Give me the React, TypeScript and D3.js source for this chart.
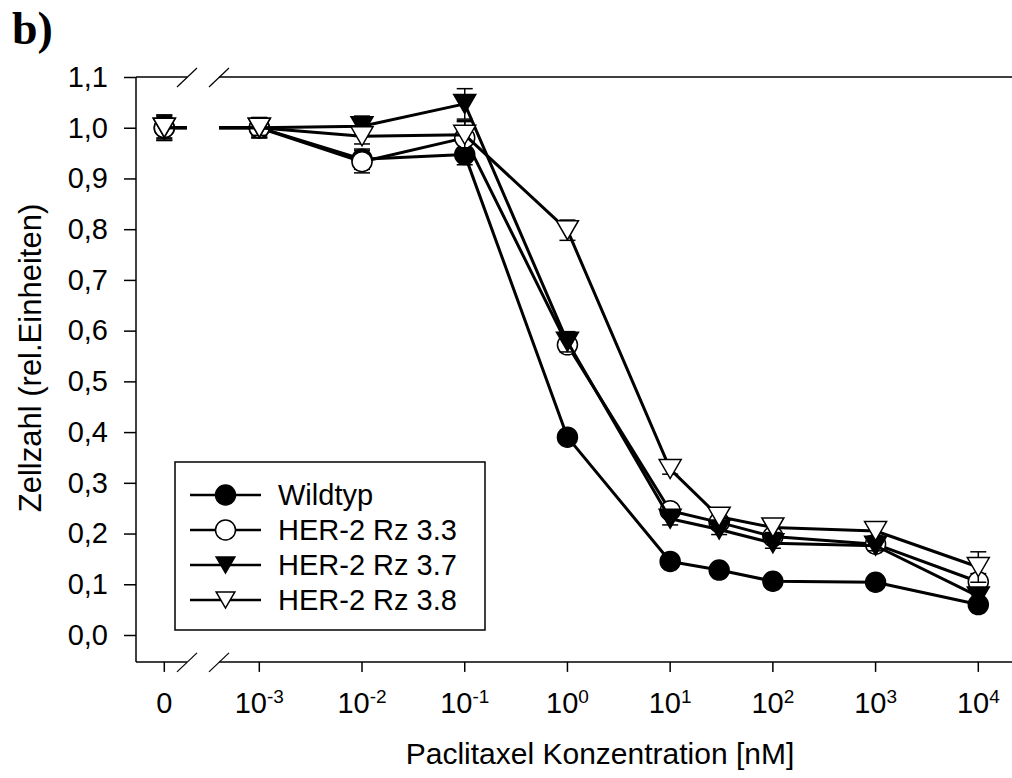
import React, { useEffect, useRef } from "react";
import * as d3 from "d3";

// Paclitaxel concentration in nM (0 = untreated control, drawn left of the axis break)
const concentrations = [0, 1e-3, 1e-2, 1e-1, 1, 10, 30, 100, 1000, 10000];

const wildtyp = [1.0, 1.0, 0.938, 0.947, 0.39, 0.145, 0.128, 0.106, 0.104, 0.06];
const rz33 = [1.0, 1.0, 0.933, 0.98, 0.572, 0.245, 0.222, 0.194, 0.179, 0.105];
const rz37 = [1.0, 1.0, 1.003, 1.047, 0.578, 0.229, 0.208, 0.181, 0.176, 0.076];
const rz38 = [1.0, 1.0, 0.983, 0.986, 0.798, 0.327, 0.233, 0.212, 0.205, 0.134];

const wildtypErr = [0.02, 0.018, 0.02, 0.02, 0.008, 0.008, 0.006, 0.006, 0.006, 0.008];
const rz33Err = [0.025, 0.02, 0.022, 0.032, 0.01, 0.01, 0.01, 0.01, 0.01, 0.016];
const rz37Err = [0.025, 0.02, 0.02, 0.03, 0.02, 0.012, 0.01, 0.01, 0.01, 0.01];
const rz38Err = [0.022, 0.015, 0.015, 0.028, 0.02, 0.01, 0.01, 0.01, 0.01, 0.03];

const seriesNames = ["Wildtyp", "HER-2 Rz 3.3", "HER-2 Rz 3.7", "HER-2 Rz 3.8"];
const yTicks = [0, 0.1, 0.2, 0.3, 0.4, 0.5, 0.6, 0.7, 0.8, 0.9, 1.0, 1.1];
const xTickExponents = [-3, -2, -1, 0, 1, 2, 3, 4];

const width = 1012;
const height = 778;
const font = "'Liberation Sans', Arial, sans-serif";

const App = () => {
  const chartRef = useRef(null);

  useEffect(() => {
    drawChart();
  }, []);

  const drawChart = () => {
    const svg = d3.select(chartRef.current);
    svg.selectAll("*").remove();

    const x = d3.scaleLog().domain([1e-3, 1e4]).range([259.3, 978.3]);
    const zeroX = 164.3;
    const px = (c) => (c === 0 ? zeroX : x(c));
    const y = d3.scaleLinear().domain([0, 1.1]).range([635, 77]);

    const axisLeftX = 136;
    const axisBottomY = y(-0.053);
    const breakA = 187;
    const breakB = 219;

    const series = [
      { name: seriesNames[0], values: wildtyp, err: wildtypErr, shape: "circle", fill: "#000" },
      { name: seriesNames[1], values: rz33, err: rz33Err, shape: "circle", fill: "#fff" },
      { name: seriesNames[2], values: rz37, err: rz37Err, shape: "triangle", fill: "#000" },
      { name: seriesNames[3], values: rz38, err: rz38Err, shape: "triangle", fill: "#fff" },
    ];

    // "b)" panel label
    svg
      .append("text")
      .attr("x", 12)
      .attr("y", 44)
      .attr("font-family", "'Liberation Serif', 'Times New Roman', serif")
      .attr("font-weight", "bold")
      .attr("font-size", 46)
      .text("b)");

    // y axis
    const yAxis = (g) =>
      g
        .attr("transform", `translate(${axisLeftX},0)`)
        .call(
          d3
            .axisLeft(y)
            .tickValues(yTicks)
            .tickSize(12)
            .tickPadding(16)
            .tickFormat((d) => d3.format(".1f")(d).replace(".", ","))
        )
        .call((g) => g.select(".domain").remove())
        .call((g) => g.selectAll(".tick line").attr("stroke", "#000").attr("stroke-width", 1.5))
        .call((g) =>
          g
            .selectAll(".tick text")
            .attr("fill", "#000")
            .attr("font-family", font)
            .attr("font-size", 29)
        );
    svg.append("g").call(yAxis);

    const axes = svg.append("g").attr("stroke", "#000").attr("stroke-width", 1.5).attr("fill", "none");
    axes.append("line").attr("x1", axisLeftX).attr("x2", axisLeftX).attr("y1", y(1.1)).attr("y2", axisBottomY);
    [y(1.1), axisBottomY].forEach((ly) => {
      axes.append("line").attr("x1", axisLeftX).attr("x2", breakA).attr("y1", ly).attr("y2", ly);
      axes.append("line").attr("x1", breakB).attr("x2", width).attr("y1", ly).attr("y2", ly);
      [breakA, breakB].forEach((bx) => {
        axes
          .append("line")
          .attr("x1", bx - 10)
          .attr("y1", ly + 10)
          .attr("x2", bx + 10)
          .attr("y2", ly - 9)
          .attr("stroke-width", 1.2);
      });
    });

    // x ticks + labels
    const xTicks = [{ pos: zeroX, exp: null }].concat(
      xTickExponents.map((e) => ({ pos: x(Math.pow(10, e)), exp: e }))
    );
    xTicks.forEach((t) => {
      axes.append("line").attr("x1", t.pos).attr("x2", t.pos).attr("y1", axisBottomY).attr("y2", axisBottomY + 10);
      const label = svg
        .append("text")
        .attr("x", t.pos)
        .attr("y", 713)
        .attr("text-anchor", "middle")
        .attr("font-family", font)
        .attr("font-size", 29);
      if (t.exp === null) {
        label.text("0");
      } else {
        label.append("tspan").text("10");
        label
          .append("tspan")
          .attr("font-size", 19)
          .attr("dy", -10)
          .text(String(t.exp));
      }
    });

    // axis titles
    svg
      .append("text")
      .attr("x", 600)
      .attr("y", 764)
      .attr("text-anchor", "middle")
      .attr("font-family", font)
      .attr("font-size", 30)
      .text("Paclitaxel Konzentration [nM]");

    svg
      .append("text")
      .attr("transform", `translate(41,${358}) rotate(-90)`)
      .attr("text-anchor", "middle")
      .attr("font-family", font)
      .attr("font-size", 31)
      .text("Zellzahl (rel.Einheiten)");

    const drawMarker = (g, shape, fill, cx, cy, size = 1) => {
      if (shape === "circle") {
        g.append("circle")
          .attr("cx", cx)
          .attr("cy", cy)
          .attr("r", 10 * size)
          .attr("fill", fill)
          .attr("stroke", "#000")
          .attr("stroke-width", 1.5);
      } else {
        const hw = 11 * size;
        const hh = 9.5 * size;
        g.append("path")
          .attr("d", `M${cx - hw},${cy - hh}L${cx + hw},${cy - hh}L${cx},${cy + hh}Z`)
          .attr("fill", fill)
          .attr("stroke", "#000")
          .attr("stroke-width", 1.5)
          .attr("stroke-linejoin", "miter");
      }
    };

    const line = d3
      .line()
      .x((d) => d[0])
      .y((d) => d[1]);

    series.forEach((s) => {
      const g = svg.append("g");
      const pts = concentrations.map((c, i) => [px(c), y(s.values[i])]);

      // broken connector between the control and 10^-3
      const [p0, p1] = pts;
      const interp = (bx) => p0[1] + ((p1[1] - p0[1]) * (bx - p0[0])) / (p1[0] - p0[0]);
      g.append("path")
        .attr("d", line([p0, [breakA, interp(breakA)]]))
        .attr("fill", "none")
        .attr("stroke", "#000")
        .attr("stroke-width", 3);
      g.append("path")
        .attr("d", line([[breakB, interp(breakB)]].concat(pts.slice(1))))
        .attr("fill", "none")
        .attr("stroke", "#000")
        .attr("stroke-width", 3)
        .attr("stroke-linejoin", "round");

      // error bars
      concentrations.forEach((c, i) => {
        const cx = px(c);
        const hi = y(s.values[i] + s.err[i]);
        const lo = y(s.values[i] - s.err[i]);
        const eb = g.append("g").attr("stroke", "#000").attr("stroke-width", 1.5);
        eb.append("line").attr("x1", cx).attr("x2", cx).attr("y1", hi).attr("y2", lo);
        [hi, lo].forEach((yy) => {
          eb.append("line").attr("x1", cx - 8).attr("x2", cx + 8).attr("y1", yy).attr("y2", yy);
        });
      });

      pts.forEach((p) => drawMarker(g, s.shape, s.fill, p[0], p[1]));
    });

    // legend
    const legend = svg.append("g");
    legend
      .append("rect")
      .attr("x", 175)
      .attr("y", 462)
      .attr("width", 310)
      .attr("height", 168)
      .attr("fill", "#fff")
      .attr("stroke", "#000")
      .attr("stroke-width", 1.5);
    series.forEach((s, i) => {
      const ly = 495 + i * 35;
      legend
        .append("line")
        .attr("x1", 190)
        .attr("x2", 261)
        .attr("y1", ly)
        .attr("y2", ly)
        .attr("stroke", "#000")
        .attr("stroke-width", 2.5);
      drawMarker(legend, s.shape, s.fill, 225.5, ly, s.shape === "circle" ? 1 : 0.85);
      legend
        .append("text")
        .attr("x", 278)
        .attr("y", ly)
        .attr("dy", "0.35em")
        .attr("font-family", font)
        .attr("font-size", 29)
        .text(s.name);
    });
  };

  return (
    <div style={{ position: "absolute", left: 0, top: 0 }}>
      <svg ref={chartRef} width={width} height={height} style={{ background: "#fff" }} />
    </div>
  );
};

export default App;
